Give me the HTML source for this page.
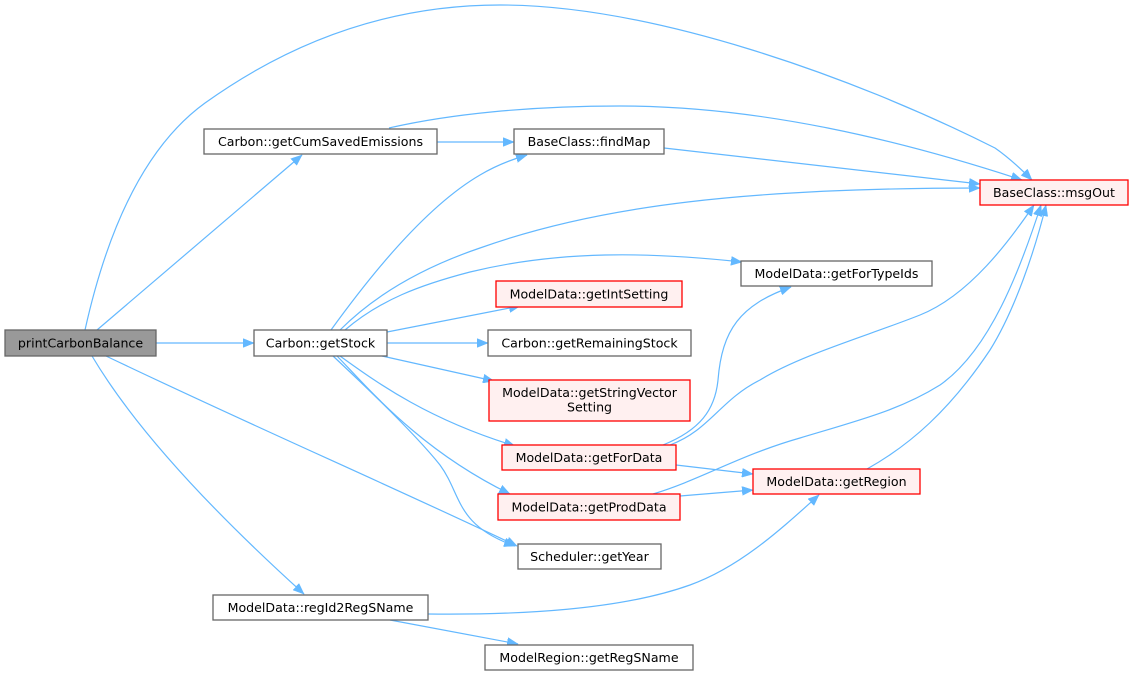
<!DOCTYPE html>
<html><head><meta charset="utf-8"><style>
html,body{margin:0;padding:0;background:#fff;}
svg{display:block;}
text{font-family:"DejaVu Sans","Liberation Sans",sans-serif;font-size:12.6px;fill:#000;}
.e{fill:none;stroke:#63b8ff;stroke-width:1.2;}
.n{fill:#fff;stroke:#666;stroke-width:1.3;}
.r{fill:#fff0f0;stroke:#ff0000;stroke-width:1.3;}
</style></head><body>
<svg width="1133" height="676" viewBox="0 0 1133 676" xmlns="http://www.w3.org/2000/svg">
<defs>
<marker id="a" markerUnits="userSpaceOnUse" markerWidth="12" markerHeight="9" refX="11" refY="4.5" orient="auto">
<path d="M0,0 L11,4.5 L0,9 z" fill="#63b8ff" stroke="#63b8ff" stroke-width="0.5"/>
</marker>
</defs>
<!-- edges -->
<path class="e" marker-end="url(#a)" d="M85,330 C105,240 140,150 205,103 C300,35 400,5 500,5 C650,5 850,75 995,148 C1008,157 1020,168 1032,180"/>
<path class="e" marker-end="url(#a)" d="M97,330 L302,155"/>
<path class="e" marker-end="url(#a)" d="M156,343 L254,343"/>
<path class="e" marker-end="url(#a)" d="M106,356 C250,425 400,490 517,546"/>
<path class="e" marker-end="url(#a)" d="M92,356 C130,420 200,500 304,594"/>
<path class="e" marker-end="url(#a)" d="M437,142 L514,142"/>
<path class="e" marker-end="url(#a)" d="M389,128 C450,114 530,106 620,106 C760,106 900,140 1022,180"/>
<path class="e" marker-end="url(#a)" d="M664,148 L980,184"/>
<path class="e" marker-end="url(#a)" d="M331,330 C360,290 420,210 480,175 C495,166 510,160 527,155"/>
<path class="e" marker-end="url(#a)" d="M340,330 C380,290 430,265 480,248 C600,205 750,188 980,188"/>
<path class="e" marker-end="url(#a)" d="M345,330 C380,300 420,285 470,272 C560,250 650,252 742,262"/>
<path class="e" marker-end="url(#a)" d="M387,332 L520,306"/>
<path class="e" marker-end="url(#a)" d="M387,343 L488,343"/>
<path class="e" marker-end="url(#a)" d="M382,356 L494,381"/>
<path class="e" marker-end="url(#a)" d="M340,356 C380,385 430,420 515,446"/>
<path class="e" marker-end="url(#a)" d="M337,356 C370,390 420,450 510,494"/>
<path class="e" marker-end="url(#a)" d="M333,356 C380,400 420,440 440,465 C462,495 455,525 515,546"/>
<path class="e" marker-end="url(#a)" d="M663,445 C700,430 715,410 718,380 C722,330 740,305 791,287"/>
<path class="e" marker-end="url(#a)" d="M670,445 C710,430 720,400 760,380 C800,355 870,335 920,315 C970,295 1010,240 1034,205"/>
<path class="e" marker-end="url(#a)" d="M676,465 L753,474"/>
<path class="e" marker-end="url(#a)" d="M680,496 L753,490"/>
<path class="e" marker-end="url(#a)" d="M653,494 C700,480 740,455 800,438 C860,420 900,410 940,385 C990,350 1020,270 1041,205"/>
<path class="e" marker-end="url(#a)" d="M867,469 C910,445 950,410 990,350 C1015,310 1035,250 1046,205"/>
<path class="e" marker-end="url(#a)" d="M428,614 C520,615 620,610 690,585 C740,567 780,530 819,495"/>
<path class="e" marker-end="url(#a)" d="M390,620 L518,644"/>
<!-- nodes -->
<rect x="5" y="330" width="151" height="26" fill="#999999" stroke="#666" stroke-width="1.3"/>
<text x="80.5" y="347.5" text-anchor="middle">printCarbonBalance</text>
<rect class="n" x="204" y="129" width="233" height="25"/>
<text x="320.5" y="146" text-anchor="middle">Carbon::getCumSavedEmissions</text>
<rect class="n" x="254" y="330" width="133" height="26"/>
<text x="320.5" y="347.5" text-anchor="middle">Carbon::getStock</text>
<rect class="n" x="514" y="129" width="150" height="25"/>
<text x="589" y="146" text-anchor="middle">BaseClass::findMap</text>
<rect class="r" x="980" y="180" width="148" height="25"/>
<text x="1054" y="197" text-anchor="middle">BaseClass::msgOut</text>
<rect class="n" x="741" y="261" width="191" height="25"/>
<text x="836.5" y="278" text-anchor="middle">ModelData::getForTypeIds</text>
<rect class="r" x="496" y="281" width="186" height="26"/>
<text x="589" y="298.5" text-anchor="middle">ModelData::getIntSetting</text>
<rect class="n" x="488" y="330" width="203" height="26"/>
<text x="589.5" y="347.5" text-anchor="middle">Carbon::getRemainingStock</text>
<rect class="r" x="489" y="380" width="201" height="41"/>
<text x="589.5" y="397" text-anchor="middle">ModelData::getStringVector</text>
<text x="589.5" y="411.5" text-anchor="middle">Setting</text>
<rect class="r" x="502" y="445" width="174" height="25"/>
<text x="589" y="462" text-anchor="middle">ModelData::getForData</text>
<rect class="r" x="498" y="494" width="182" height="26"/>
<text x="589" y="511.5" text-anchor="middle">ModelData::getProdData</text>
<rect class="r" x="753" y="469" width="167" height="25"/>
<text x="836.5" y="486" text-anchor="middle">ModelData::getRegion</text>
<rect class="n" x="518" y="544" width="143" height="25"/>
<text x="589.5" y="561" text-anchor="middle">Scheduler::getYear</text>
<rect class="n" x="213" y="595" width="215" height="25"/>
<text x="320.5" y="612" text-anchor="middle">ModelData::regId2RegSName</text>
<rect class="n" x="485" y="645" width="208" height="25"/>
<text x="589" y="662" text-anchor="middle">ModelRegion::getRegSName</text>
</svg>
</body></html>
